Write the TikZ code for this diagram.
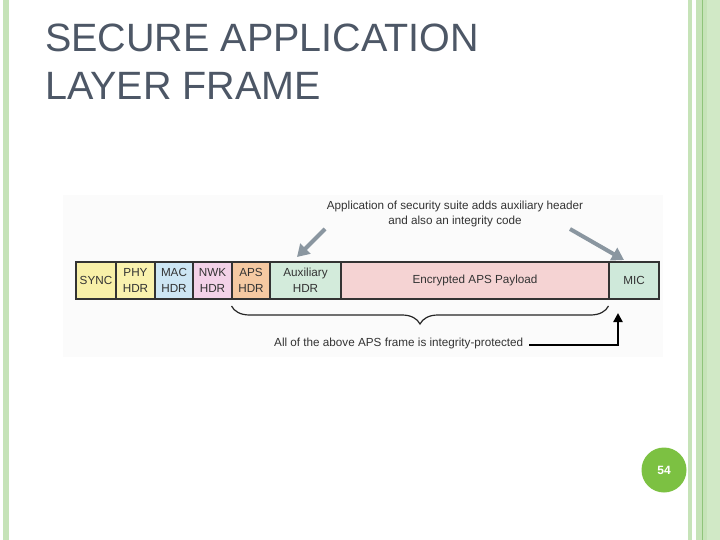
\documentclass[tikz,border=0pt]{standalone}
\usepackage{fontspec}
\setmainfont{Liberation Sans}
\usetikzlibrary{arrows.meta,decorations.pathreplacing}
\definecolor{titlecol}{HTML}{4D5766}
\definecolor{bargreen}{HTML}{C6E3B8}
\definecolor{bardark}{HTML}{8FC47A}
\definecolor{pagegreen}{HTML}{7CC142}
\definecolor{txtcol}{HTML}{333333}
\definecolor{edgecol}{HTML}{333333}
\definecolor{arrowgray}{HTML}{8A96A0}
\definecolor{cSync}{HTML}{F8F0A8}
\definecolor{cPhy}{HTML}{FAF2AE}
\definecolor{cMac}{HTML}{CDE6F4}
\definecolor{cNwk}{HTML}{F3D2E8}
\definecolor{cAps}{HTML}{F5C9A2}
\definecolor{cAux}{HTML}{D3EBDB}
\definecolor{cPay}{HTML}{F5D3D3}
\definecolor{cMic}{HTML}{CFE9DA}
\begin{document}
\begin{tikzpicture}[x=1pt,y=-1pt,
  field/.style={draw=edgecol, line width=1.1pt, inner sep=0pt, minimum height=37pt,
    align=center, font=\fontsize{11.7}{15.5}\selectfont, text=txtcol},
  small/.style={font=\fontsize{11.7}{15}\selectfont, text=txtcol, inner sep=0pt, align=center},
  grayarrow/.style={draw=arrowgray, line width=4pt, -{Triangle[length=12pt,width=14pt]}}
]
\useasboundingbox (0,0) rectangle (720,540);
\fill[white] (0,0) rectangle (720,540);
% side bars
\fill[bargreen] (3,0) rectangle (9,540);
\fill[bargreen] (688,0) rectangle (692,540);
\fill[bargreen] (696,0) rectangle (720,540);
\fill[bargreen!80!white] (707,0) rectangle (720,540);
\draw[bardark, line width=1pt] (702.5,0) -- (702.5,540);
% title
\node[anchor=base west, inner sep=0pt, text=titlecol, font=\fontsize{39.5}{47.5}\selectfont] (t1) at (45,52) {SECURE APPLICATION};
\node[anchor=base west, inner sep=0pt, text=titlecol, font=\fontsize{39.5}{47.5}\selectfont] (t2) at (45,99.5) {LAYER FRAME};
% picture background
\fill[black!1.5] (63,195) rectangle (663,357);
% fields
\node[field, fill=cSync, minimum width=40pt] (sync) at (96,280.5) {SYNC};
\node[field, fill=cPhy, minimum width=39pt] (phy) at (135.5,280.5) {PHY\\HDR};
\node[field, fill=cMac, minimum width=38pt] (mac) at (174,280.5) {MAC\\HDR};
\node[field, fill=cNwk, minimum width=39pt] (nwk) at (212.5,280.5) {NWK\\HDR};
\node[field, fill=cAps, minimum width=38pt] (aps) at (251,280.5) {APS\\HDR};
\node[field, fill=cAux, minimum width=71pt] (aux) at (305.5,280.5) {Auxiliary\\HDR};
\node[field, fill=cPay, minimum width=268pt] (pay) at (475,280.5) {Encrypted APS Payload};
\node[field, fill=cMic, minimum width=50pt] (mic) at (634,280.5) {MIC};
% annotation
\node[small] (note) at (455,213.5) {Application of security suite adds auxiliary header\\and also an integrity code};
\coordinate (a1s) at (325,229);
\coordinate (a1e) at (297,257);
\coordinate (a2s) at (570,229);
\coordinate (a2e) at (624,260);
\draw[grayarrow] (a1s) -- (a1e);
\draw[grayarrow] (a2s) -- (a2e);
% brace
\coordinate (bl) at (231.5,306);
\coordinate (br) at (608.5,306);
\draw[black!85, line width=1.2pt, decorate, decoration={brace, mirror, amplitude=18pt}] (bl) -- (br);
\node[small, anchor=west] (prot) at (274,343) {All of the above APS frame is integrity-protected};
\coordinate (corner) at (618,345);
\coordinate (tip) at (618,313);
\draw[black, line width=2.6pt, -{Triangle[length=9pt,width=9pt]}] (prot.east) ++(6,2) -- (corner) -- (tip);
% page number
\node[circle, fill=pagegreen, minimum size=45pt, inner sep=0pt, text=white, font=\fontsize{12}{14}\selectfont\bfseries] (page) at (664,470) {54};
\end{tikzpicture}
\end{document}
